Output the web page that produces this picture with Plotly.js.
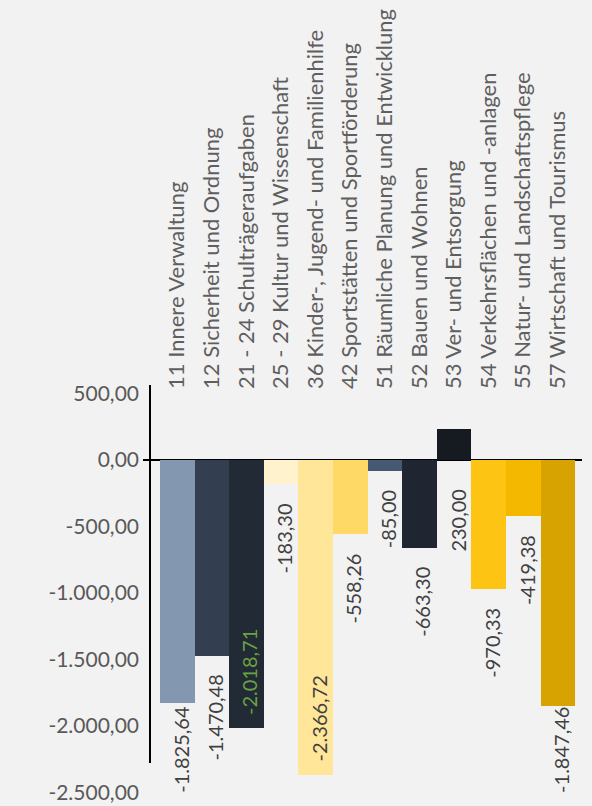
<!DOCTYPE html>
<html>
<head>
<meta charset="utf-8">
<script src="https://cdn.plot.ly/plotly-3.0.1.min.js"></script>
<style>
  html, body { margin: 0; padding: 0; background: #f2f2f2; }
  #chart { width: 592px; height: 806px; }
</style>
</head>
<body>
<div id="chart"></div>
<script>
// ---- data ----
const categories = [
  "11 Innere Verwaltung",
  "12 Sicherheit und Ordnung",
  "21 - 24 Schulträgeraufgaben",
  "25 - 29 Kultur und Wissenschaft",
  "36 Kinder-, Jugend- und Familienhilfe",
  "42 Sportstätten und Sportförderung",
  "51 Räumliche Planung und Entwicklung",
  "52 Bauen und Wohnen",
  "53 Ver- und Entsorgung",
  "54 Verkehrsflächen und -anlagen",
  "55 Natur- und Landschaftspflege",
  "57 Wirtschaft und Tourismus"
];
const values = [-1825.64, -1470.48, -2018.71, -183.30, -2366.72, -558.26, -85.00, -663.30, 230.00, -970.33, -419.38, -1847.46];
const yTicks = [500, 0, -500, -1000, -1500, -2000, -2500];

// ---- style ----
const barColors = ["#8497b0", "#333f50", "#222a35", "#fff2cc", "#ffe699", "#ffd966",
                   "#465872", "#1f2631", "#161a21", "#fec414", "#f4b800", "#d6a300"];
const labelColors = values.map((v, i) => i === 2 ? "#6aa442" : "#404040");
const FONT = "Lato, 'Open Sans', sans-serif";

function fmtDE(v) {
  const neg = v < 0;
  let s = Math.abs(v).toFixed(2);
  let [ip, dp] = s.split(".");
  ip = ip.replace(/\B(?=(\d{3})+(?!\d))/g, ".");
  return (neg ? "-" : "") + ip + "," + dp;
}

const W = 592, H = 806;
const mL = 143, mR = 10, mT = 390, mB = 6;
const plotH = H - mT - mB;
const pxPerUnit = 0.133;
const zeroPx = 460;
const yTop = (zeroPx - mT) / pxPerUnit;
const yBot = -((H - mB) - zeroPx) / pxPerUnit;
const barPx = 34.6;
const xLeft = -(177.3 - mL) / barPx;
const xRight = xLeft + (W - mL - mR) / barPx;

const x = categories.map((c, i) => i);

const annotations = values.map((v, i) => {
  const a = {
    x: i, text: fmtDE(v), showarrow: false, textangle: -90,
    font: { family: FONT, size: 20, color: labelColors[i] },
    xref: "x", yref: "y", xanchor: "center", xshift: 3
  };
  const endPx = zeroPx + Math.max(0, -v) * pxPerUnit;
  const labelLen = 88;
  if (v >= 0) {
    a.y = 0; a.yanchor = "top"; a.yshift = -27;
  } else if (v < -2000) {
    a.y = v; a.yanchor = "bottom"; a.yshift = 11;
  } else if (endPx + 17 + labelLen > H - 9) {
    a.y = yBot; a.yanchor = "bottom"; a.yshift = 5;
  } else {
    a.y = v; a.yanchor = "top"; a.yshift = -17;
  }
  return a;
});

const trace = {
  type: "bar",
  x: x,
  y: values,
  width: 1,
  marker: { color: barColors, line: { width: 0 } },
  hoverinfo: "none"
};

const layout = {
  width: W, height: H,
  paper_bgcolor: "#f2f2f2",
  plot_bgcolor: "#f2f2f2",
  margin: { l: mL, r: mR, t: mT, b: mB, pad: 0 },
  showlegend: false,
  separators: ",.",
  bargap: 0,
  xaxis: {
    side: "top",
    range: [xLeft, xRight],
    tickmode: "array",
    tickvals: x,
    ticktext: categories,
    tickangle: -90,
    ticks: "",
    showgrid: false,
    zeroline: false,
    showline: false,
    tickfont: { family: FONT, size: 22, color: "#5f5f5f" },
    fixedrange: true
  },
  yaxis: {
    range: [yBot, yTop],
    tickmode: "array",
    tickvals: yTicks,
    ticktext: yTicks.map(fmtDE),
    ticks: "",
    ticklabelstandoff: 3,
    showgrid: false,
    zeroline: true,
    zerolinecolor: "#000000",
    zerolinewidth: 2,
    showline: false,
    tickfont: { family: FONT, size: 21, color: "#595959" },
    fixedrange: true
  },
  shapes: [{
    type: "line", xref: "paper", yref: "paper",
    x0: 7 / (W - mL - mR), x1: 7 / (W - mL - mR),
    y0: ((H - mB) - 385) / plotH, y1: ((H - mB) - 763) / plotH,
    line: { color: "#000000", width: 2 }
  }],
  annotations: annotations
};

Plotly.newPlot("chart", [trace], layout, { displayModeBar: false, staticPlot: true });
</script>
</body>
</html>
